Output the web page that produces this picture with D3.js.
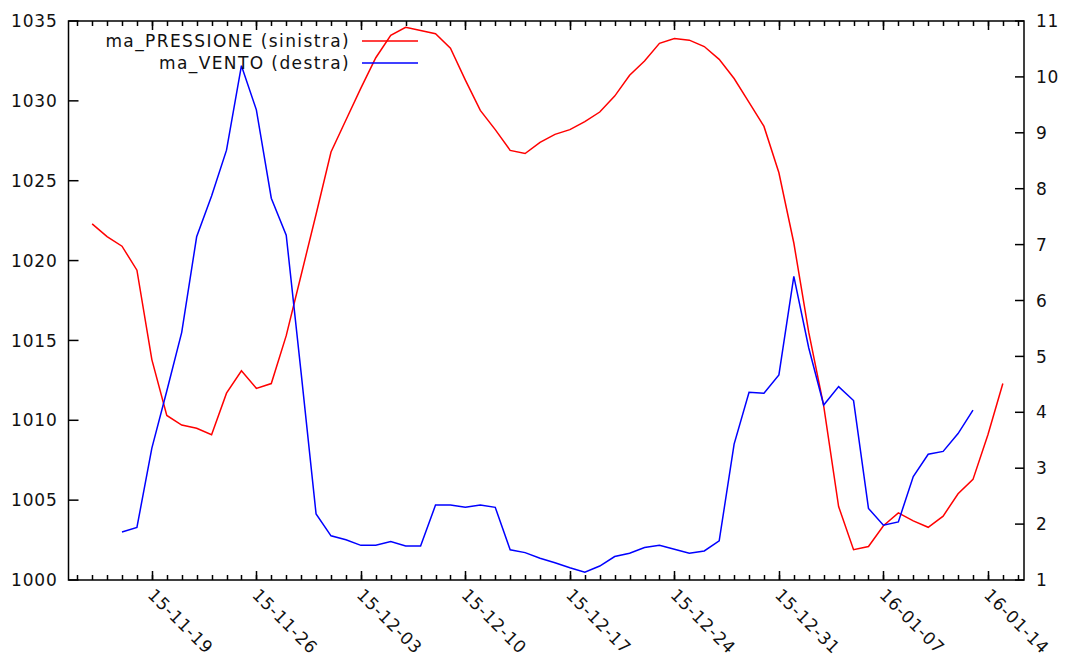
<!DOCTYPE html>
<html>
<head>
<meta charset="utf-8">
<script src="https://cdn.jsdelivr.net/npm/d3@7"></script>
<style>
  body { margin: 0; background: #fff; }
  svg text { font-family: "DejaVu Sans", Verdana, sans-serif; font-size: 17px; fill: #111; letter-spacing: 0.8px; }
  svg .legend text { letter-spacing: 1.4px; }
</style>
</head>
<body>
<div id="chart"></div>
<script>
// moving average of pressure (hPa), one value per day from 2015-11-15
const pressureStart = '2015-11-15';
const pressure = [
  1022.3, 1021.5, 1020.9, 1019.4, 1013.8, 1010.3, 1009.7, 1009.5, 1009.1, 1011.7,
  1013.1, 1012.0, 1012.3, 1015.3, 1019.1, 1022.9, 1026.8, 1028.8, 1030.8, 1032.7,
  1034.1, 1034.6, 1034.4, 1034.2, 1033.3, 1031.3, 1029.4, 1028.2, 1026.9, 1026.7,
  1027.4, 1027.9, 1028.2, 1028.7, 1029.3, 1030.3, 1031.6, 1032.5, 1033.6, 1033.9,
  1033.8, 1033.4, 1032.6, 1031.4, 1029.9, 1028.4, 1025.5, 1021.1, 1015.5, 1010.9,
  1004.6, 1001.9, 1002.1, 1003.4, 1004.2, 1003.7, 1003.3, 1004.0, 1005.4, 1006.3,
  1009.1, 1012.3
];

// moving average of wind, one value per day from 2015-11-17
const windStart = '2015-11-17';
const wind = [
  1.86, 1.94, 3.36, 4.38, 5.43, 7.14, 7.87, 8.69, 10.2, 9.41,
  7.83, 7.17, 4.70, 2.18, 1.79, 1.72, 1.62, 1.62, 1.69, 1.61,
  1.61, 2.34, 2.34, 2.30, 2.34, 2.30, 1.54, 1.49, 1.39, 1.31,
  1.22, 1.14, 1.25, 1.42, 1.48, 1.58, 1.62, 1.55, 1.48, 1.52,
  1.70, 3.43, 4.36, 4.34, 4.67, 6.43, 5.15, 4.13, 4.46, 4.21,
  2.28, 1.98, 2.04, 2.85, 3.25, 3.30, 3.62, 4.04
];

const seriesNames = ['ma_PRESSIONE (sinistra)', 'ma_VENTO (destra)'];
const leftTicks = [1000, 1005, 1010, 1015, 1020, 1025, 1030, 1035];
const rightTicks = [1, 2, 3, 4, 5, 6, 7, 8, 9, 10, 11];

const width = 1068, height = 661;
const plot = { left: 68.5, right: 1024, top: 21, bottom: 580 };

const svg = d3.select('#chart').append('svg')
  .attr('width', width)
  .attr('height', height);

svg.append('rect').attr('width', width).attr('height', height).attr('fill', '#fff');

const dayOf = (start, i) => d3.utcDay.offset(new Date(start + 'T00:00:00Z'), i);
const pData = pressure.map((v, i) => ({ date: dayOf(pressureStart, i), v }));
const wData = wind.map((v, i) => ({ date: dayOf(windStart, i), v }));

const x = d3.scaleUtc()
  .domain([new Date('2015-11-13T10:00:00Z'), new Date('2016-01-16T10:00:00Z')])
  .range([plot.left, plot.right]);

const yL = d3.scaleLinear().domain([1000, 1035]).range([plot.bottom, plot.top]);
const yR = d3.scaleLinear().domain([1, 11]).range([plot.bottom, plot.top]);

const fmt = d3.utcFormat('%y-%m-%d');
const majorDays = d3.utcThursday.range(x.domain()[0], x.domain()[1]);
const minorDays = d3.utcDay.range(x.domain()[0], x.domain()[1]);

const axes = svg.append('g').attr('stroke', '#000').attr('stroke-width', 1.5);

// minor day ticks, bottom and top
axes.selectAll('.minor')
  .data(minorDays)
  .enter()
  .append('path')
  .attr('d', d => {
    const px = Math.round(x(d)) + 0.5;
    return `M${px},${plot.bottom}v-5M${px},${plot.top}v5`;
  });

// major week ticks
axes.selectAll('.major')
  .data(majorDays)
  .enter()
  .append('path')
  .attr('d', d => {
    const px = Math.round(x(d)) + 0.5;
    return `M${px},${plot.bottom}v-9M${px},${plot.top}v9`;
  });

// left ticks
axes.selectAll('.lt')
  .data(leftTicks)
  .enter()
  .append('path')
  .attr('d', d => `M${plot.left},${yL(d)}h10`);

// right ticks
axes.selectAll('.rt')
  .data(rightTicks)
  .enter()
  .append('path')
  .attr('d', d => `M${plot.right},${yR(d)}h-9`);

// border
axes.append('rect')
  .attr('x', plot.left)
  .attr('y', plot.top)
  .attr('width', plot.right - plot.left)
  .attr('height', plot.bottom - plot.top)
  .attr('fill', 'none');

// labels
svg.selectAll('.ll')
  .data(leftTicks)
  .enter()
  .append('text')
  .attr('x', plot.left - 11)
  .attr('y', d => yL(d))
  .attr('dy', '0.36em')
  .attr('text-anchor', 'end')
  .text(d => d);

svg.selectAll('.rl')
  .data(rightTicks)
  .enter()
  .append('text')
  .attr('x', plot.right + 12)
  .attr('y', d => yR(d))
  .attr('dy', '0.36em')
  .attr('text-anchor', 'start')
  .text(d => d);

svg.selectAll('.xl')
  .data(majorDays)
  .enter()
  .append('text')
  .attr('transform', d => `translate(${x(d) - 5},${plot.bottom + 16}) rotate(45)`)
  .attr('text-anchor', 'start')
  .text(d => fmt(d));

// lines
const lineP = d3.line().x(d => x(d.date)).y(d => yL(d.v));
const lineW = d3.line().x(d => x(d.date)).y(d => yR(d.v));

svg.append('path')
  .datum(pData)
  .attr('d', lineP)
  .attr('fill', 'none')
  .attr('stroke', '#ff0000')
  .attr('stroke-width', 1.5);

svg.append('path')
  .datum(wData)
  .attr('d', lineW)
  .attr('fill', 'none')
  .attr('stroke', '#0000ff')
  .attr('stroke-width', 1.5);

// legend
const legendColors = ['#ff0000', '#0000ff'];
const legend = svg.selectAll('.legend')
  .data(seriesNames)
  .enter()
  .append('g')
  .attr('class', 'legend')
  .attr('transform', (d, i) => `translate(0,${41 + i * 22})`);

legend.append('text')
  .attr('x', 350)
  .attr('dy', '0.36em')
  .attr('text-anchor', 'end')
  .text(d => d);

legend.append('path')
  .attr('d', 'M362,0H418')
  .attr('stroke', (d, i) => legendColors[i])
  .attr('stroke-width', 1.5);
</script>
</body>
</html>
